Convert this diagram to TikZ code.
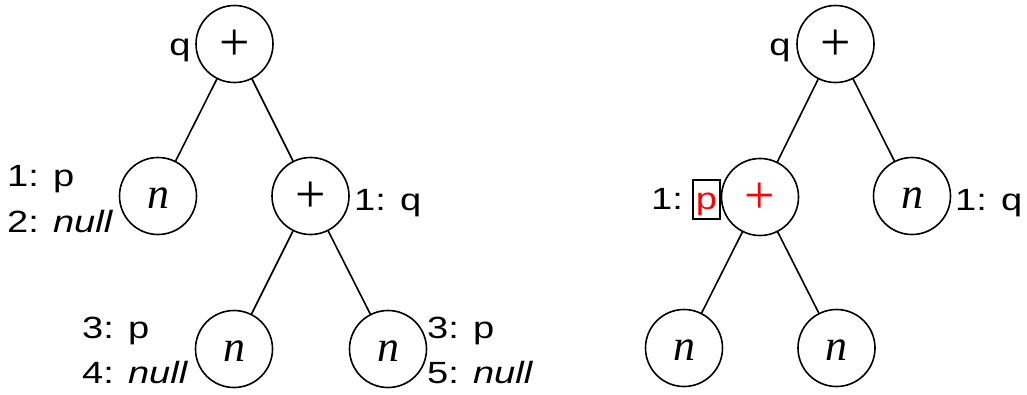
\documentclass[tikz,border=0pt]{standalone}
\usepackage{fontspec}
\newfontfamily\hv[FakeStretch=1.24]{Liberation Sans}
\newfontfamily\tms{Liberation Serif}
\begin{document}
\begin{tikzpicture}[x=1pt,y=-1pt,
  vert/.style={circle, draw, line width=1.6pt, minimum size=77pt, inner sep=0pt},
  opnode/.style={vert, font=\tms\fontsize{54}{54}\selectfont, text height=32.4pt, text depth=0pt},
  leaf/.style={vert, font=\tms\itshape\fontsize{44}{44}\selectfont, text height=25.6pt, text depth=0pt},
  edge/.style={line width=1.6pt},
  lbl/.style={font=\hv\fontsize{30.7}{30.7}\selectfont, inner sep=0pt, anchor=base west},
  lble/.style={lbl, anchor=base east}]
\useasboundingbox (0,0) rectangle (1027,394);
% left tree
\node[opnode] (A) at (234.5,44) {+};
\node[leaf] (B) at (158,196) {n};
\node[opnode] (C) at (310.5,196) {+};
\node[leaf] (D) at (234,349) {n};
\node[leaf] (E) at (388,349) {n};
\draw[edge] (A) -- (B);
\draw[edge] (A) -- (C);
\draw[edge] (C) -- (D);
\draw[edge] (C) -- (E);
\node[lble] (qA) at (190.7,55) {q};
\node[lbl] (lB1) at (7,186) {1: p};
\node[lbl] (lB2) at (7,232) {2: \textit{null}};
\node[lbl] (lC) at (354,210) {1: q};
\node[lbl] (lD1) at (82,338) {3: p};
\node[lbl] (lD2) at (82,383) {4: \textit{null}};
\node[lbl] (lE1) at (427,338) {3: p};
\node[lbl] (lE2) at (427,383) {5: \textit{null}};
% right tree
\node[opnode] (F) at (835.5,44) {+};
\node[opnode, text=red] (G) at (760,197) {+};
\node[leaf] (H) at (912,196) {n};
\node[leaf] (I) at (684,348) {n};
\node[leaf] (J) at (836.5,348) {n};
\draw[edge] (F) -- (G);
\draw[edge] (F) -- (H);
\draw[edge] (G) -- (I);
\draw[edge] (G) -- (J);
\node[lble] (qF) at (790.7,55) {q};
\node[lbl] (lG) at (651,209) {1:};
\node[draw, line width=1.3pt, minimum width=27pt, minimum height=39pt, inner sep=0pt] (pbox) at (706.5,199.5) {};
\node[lbl, anchor=base, text=red] (pG) at (706.5,209) {p};
\node[lbl] (lH) at (955,210) {1: q};
\end{tikzpicture}
\end{document}
